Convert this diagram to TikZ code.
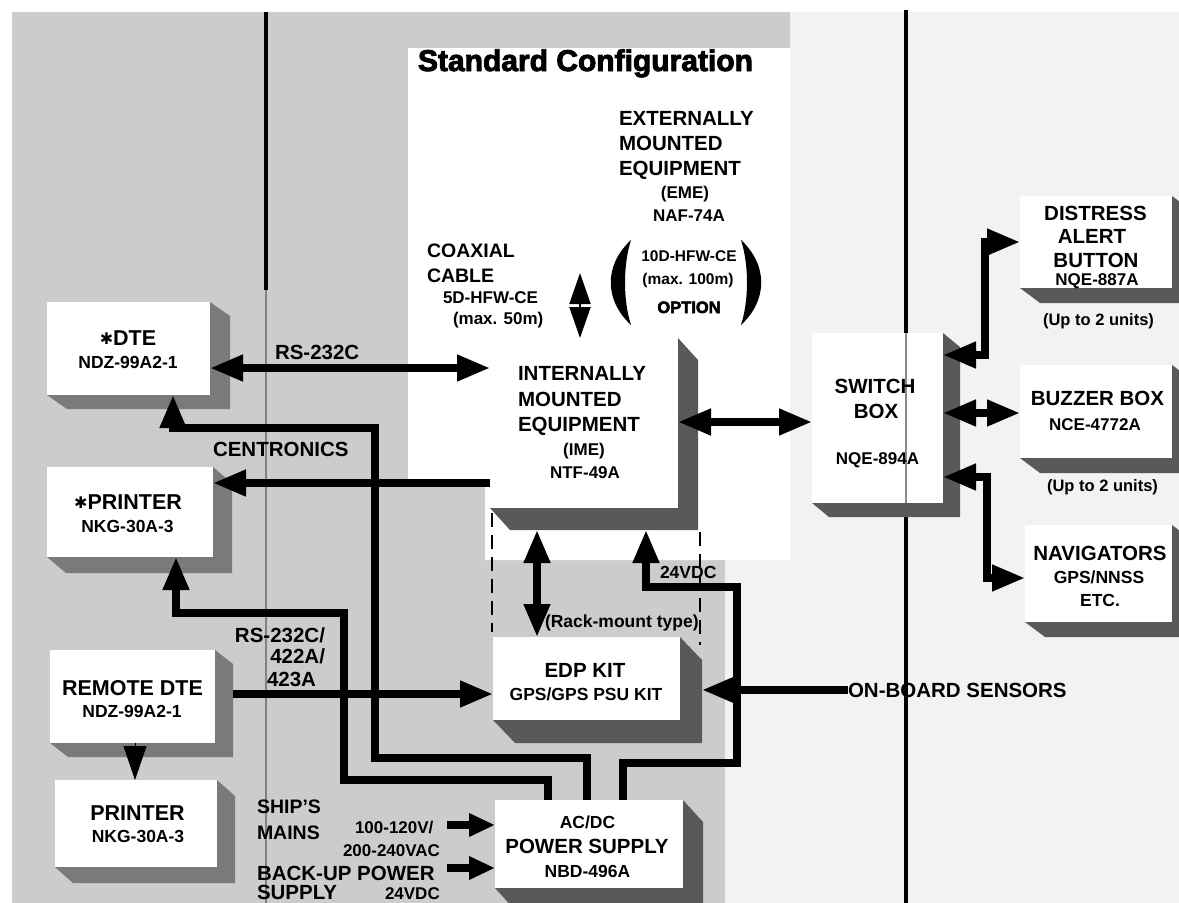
\documentclass[tikz,border=0pt]{standalone}
\usepackage{fontspec}
\setmainfont{Liberation Sans}
\newfontfamily\djv{DejaVu Sans}
\newfontfamily\heavy{Liberation Sans Bold}[FakeBold=3]
\usetikzlibrary{arrows.meta,calc,fit}
\pgfdeclarelayer{bgl}
\pgfdeclarelayer{shl}
\pgfsetlayers{bgl,shl,main}
\newcommand\mkshadow[4][shadowfill]{%
  \begin{pgfonlayer}{shl}
    \fill[#1] (#2.north east) -- ++(#3,#4) -- ($(#2.south east)+(#3,#4)$) -- ($(#2.south west)+(#3,#4)$) -- (#2.south west) -- (#2.south east) -- cycle;
  \end{pgfonlayer}}
\newcommand\myast{{\djv\bfseries\fontsize{16}{16}\selectfont\raisebox{0.03em}{✱}}}
\begin{document}
\begin{tikzpicture}[x=1pt,y=-1pt,
  box/.style={rectangle, fill=white, draw=none, inner sep=0pt, outer sep=0pt},
  shadowfill/.style={fill=black!65},
  shadowlite/.style={fill=black!52},
  tx/.style={inner sep=0pt, outer sep=0pt},
  fA/.style={tx, font=\bfseries\fontsize{20.5}{25}\selectfont},
  fL/.style={tx, font=\bfseries\fontsize{21.5}{26}\selectfont},
  fE/.style={tx, font=\bfseries\fontsize{19.5}{24}\selectfont},
  fB/.style={tx, font=\bfseries\fontsize{17}{21}\selectfont},
  fS/.style={tx, font=\bfseries\fontsize{15.5}{20}\selectfont},
  fG/.style={tx, font=\bfseries\fontsize{17.5}{21}\selectfont},
  fD/.style={tx, font=\bfseries\fontsize{16.5}{20}\selectfont},
  fO/.style={tx, font=\heavy\fontsize{16.5}{20}\selectfont},
  fT/.style={tx, font=\heavy\fontsize{30}{34}\selectfont},
  conn/.style={line width=7.5pt, line cap=butt, >={Triangle[length=33pt,width=25pt]}},
  fat/.style={line width=8pt, line cap=butt, >={Triangle[length=26pt,width=22pt]}},
  coax/.style={line width=2pt, >={Triangle[length=31pt,width=21pt]}},
  tri/.style={line width=1pt, >={Triangle[length=34pt,width=23pt]}},
  rackline/.style={line width=1.5pt, dash pattern=on 14pt off 8pt},
]
\useasboundingbox (0,0) rectangle (1179,903);
% background
\begin{pgfonlayer}{bgl}
  \fill[white] (0,0) rectangle (1179,903);
  \fill[black!20] (12,12) rectangle (1179,903);
  \fill[white] (408,48) -- (1179,48) -- (1179,903) -- (725,903) -- (725,560) -- (485,560) -- (485,480) -- (408,480) -- cycle;
  \fill[black!5] (790,12) rectangle (1179,903);
  \fill[black!5] (725,560) rectangle (790,903);
  \draw[line width=4.5pt] (266,12) -- (266,290);
  \draw[black!50, line width=1.6pt] (266,290) -- (266,903);
  \draw[line width=4.5pt] (906,10) -- (906,903);
\end{pgfonlayer}

% boxes
\node[box, fit={(47,302) (210,395)}] (dte) {};
\node[box, fit={(47,467) (213,557)}] (prn) {};
\node[box, fit={(50,650) (215,743)}] (rdte) {};
\node[box, fit={(55,780) (217,867)}] (prn2) {};
\node[box, fit={(490,338) (678,508)}] (ime) {};
\node[box, fit={(493,637) (680,720)}] (edp) {};
\node[box, fit={(495,800) (683,888)}] (psu) {};
\node[box, fit={(812,333) (943,503)}] (sw) {};
\node[box, fit={(1020,196) (1172,288)}] (dab) {};
\node[box, fit={(1020,365) (1172,458)}] (buz) {};
\node[box, fit={(1025,525) (1172,622)}] (nav) {};
\mkshadow[shadowlite]{dte}{20}{14}
\mkshadow[shadowlite]{prn}{19}{16}
\mkshadow[shadowlite]{rdte}{18}{14}
\mkshadow[shadowlite]{prn2}{18}{16}
\mkshadow{ime}{20}{22}
\mkshadow{edp}{22}{23}
\mkshadow{psu}{20}{22}
\mkshadow{sw}{17}{14}
\mkshadow{dab}{20}{15}
\mkshadow{buz}{20}{15}
\mkshadow{nav}{20}{15}
\draw[black!45, line width=1.2pt] (sw.north -| 906,0) -- (sw.south -| 906,0);

% title
\node[fT, anchor=base west] (title) at (418,71) {Standard Configuration};

% externally mounted equipment
\node[fA, anchor=base west] (emeA) at (619,125) {EXTERNALLY};
\node[fA, anchor=base west] (emeB) at (619,150) {MOUNTED};
\node[fA, anchor=base west] (emeC) at (619,175) {EQUIPMENT};
\node[fB, anchor=base] (emeD) at (685,198) {(EME)};
\node[fB, anchor=base] (emeE) at (689,221) {NAF-74A};
\node[fS, anchor=base] (optA) at (689,261) {10D-HFW-CE};
\node[fS, anchor=base] (optB) at (688,284) {(max. 100m)};
\node[fO, anchor=base] (optC) at (689,313) {OPTION};
\fill (631,240) .. controls (604,265) and (604,300) .. (631,325) .. controls (623,300) and (623,265) .. cycle;
\fill (741,240) .. controls (768,265) and (768,300) .. (741,325) .. controls (749,300) and (749,265) .. cycle;

% coaxial cable
\node[fE, anchor=base west] (coxA) at (427,257) {COAXIAL};
\node[fE, anchor=base west] (coxB) at (427,282) {CABLE};
\node[fB, anchor=base west] (coxC) at (443,303) {5D-HFW-CE};
\node[fB, anchor=base west] (coxD) at (453,324) {(max. 50m)};
\coordinate (coaxtop) at (580,273);

% IME
\node[fA, anchor=base west] (imeA) at (518,380) {INTERNALLY};
\node[fA, anchor=base west] (imeB) at (518,406) {MOUNTED};
\node[fA, anchor=base west] (imeC) at (518,431) {EQUIPMENT};
\node[fB, anchor=base] (imeD) at (584,455) {(IME)};
\node[fB, anchor=base] (imeE) at (585,478) {NTF-49A};

% left boxes
\node[fL, anchor=base] (dteA) at (128,345) {\myast DTE};
\node[fG, anchor=base] (dteB) at (128,368) {NDZ-99A2-1};
\node[fL, anchor=base] (prnA) at (128,509) {\myast PRINTER};
\node[fG, anchor=base] (prnB) at (127.5,532) {NKG-30A-3};
\node[fL, anchor=base] (rdteA) at (132.5,695) {REMOTE DTE};
\node[fG, anchor=base] (rdteB) at (132,717) {NDZ-99A2-1};
\node[fL, anchor=base] (prn2A) at (137.5,820) {PRINTER};
\node[fG, anchor=base] (prn2B) at (138,842) {NKG-30A-3};

% link labels
\node[fA, anchor=base west] (rsA) at (275,359) {RS-232C};
\node[fA, anchor=base west] (cen) at (213,456) {CENTRONICS};
\node[fA, anchor=base east] (rsB) at (325,642) {RS-232C/};
\node[fA, anchor=base east] (rsC) at (325,663) {422A/};
\node[fA, anchor=base west] (rsD) at (267,686) {423A};

% mains
\node[fE, anchor=base west] (shA) at (257,813) {SHIP’S};
\node[fE, anchor=base west] (shB) at (257,839) {MAINS};
\node[fB, anchor=base west] (vA) at (355,833) {100-120V/};
\node[fB, anchor=base west] (vB) at (343,856) {200-240VAC};
\node[fA, anchor=base west] (buA) at (257,880) {BACK-UP POWER};
\node[fA, anchor=base west] (buB) at (257,899) {SUPPLY};
\node[fB, anchor=base west] (buC) at (385,899) {24VDC};
\coordinate (mainsT) at (447,825);
\coordinate (backT) at (447,868);

% EDP and PSU
\node[fA, anchor=base] (edpA) at (585,677) {EDP KIT};
\node[fG, anchor=base] (edpB) at (586,700) {GPS/GPS PSU KIT};
\node[fG, anchor=base west] (rack) at (545,627) {(Rack-mount type)};
\node[fG, anchor=base] (psuA) at (587.5,828) {AC/DC};
\node[fA, anchor=base] (psuB) at (587,853) {POWER SUPPLY};
\node[fG, anchor=base] (psuC) at (587.5,877) {NBD-496A};
\node[fG, anchor=base west] (v24) at (660,578) {24VDC};
\node[fA, anchor=base west] (onb) at (848,697) {ON-BOARD SENSORS};
\coordinate (edpsh) at ($(edp.east)+(22,0)$);

% switch box and right side
\node[fA, anchor=base] (swA) at (875,393) {SWITCH};
\node[fA, anchor=base] (swB) at (876,418) {BOX};
\node[fB, anchor=base] (swC) at (877.5,464) {NQE-894A};
\node[fA, anchor=base] (dabA) at (1095.5,220) {DISTRESS};
\node[fA, anchor=base] (dabB) at (1092,243) {ALERT};
\node[fA, anchor=base] (dabC) at (1096,267) {BUTTON};
\node[fB, anchor=base] (dabD) at (1097,285) {NQE-887A};
\node[fD, anchor=base] (dabE) at (1098.5,325) {(Up to 2 units)};
\node[fA, anchor=base] (buzA) at (1097.5,405) {BUZZER BOX};
\node[fB, anchor=base] (buzB) at (1095,430) {NCE-4772A};
\node[fD, anchor=base] (buzC) at (1102.5,491) {(Up to 2 units)};
\node[fA, anchor=base] (navA) at (1100,560) {NAVIGATORS};
\node[fG, anchor=base] (navB) at (1099,583) {GPS/NNSS};
\node[fG, anchor=base] (navC) at (1100,606) {ETC.};

% rack-mount dashed frame
\draw[rackline] ($(ime.south west)+(2,5)$) -- ($(edp.north west)+(-1,-5)$);
\draw[rackline] ($(ime.south east)+(22,24)$) -- ($(edp.north east)+(20,8)$);

% connectors
\draw[coax,<->] (coaxtop) -- ($(ime.north west)+(90,0)$);
\draw[conn,<->] ($(dte.north east)+(0,66)$) -- ($(ime.north west)+(0,30)$);
\draw[conn,->] ($(ime.north west)+(0,145)$) -- ($(prn.north east)+(0,16)$);
\draw[conn,<->] ($(ime.north east)+(0,84)$) -- ($(sw.north west)+(0,89)$);
\draw[conn,<->] ($(ime.south west)+(47,22)$) -- ($(edp.north west)+(44,0)$);
\draw[conn,->] ($(psu.north west)+(128,0)$) -- ++(0,-37) -- ++(114,0) -- ++(0,-176) -- ++(-91,0) -- ($(ime.south west)+(156,22)$);
\draw[conn,->] ($(psu.north west)+(92,0)$) -- ++(0,-42) -- ++(-212,0) -- ++(0,-330) -- ++(-202,0) -- ($(dte.south west)+(126,0)$);
\draw[conn,->] ($(psu.north west)+(53,0)$) -- ++(0,-20) -- ++(-204,0) -- ++(0,-167) -- ++(-168,0) -- ($(prn.south west)+(129,0)$);
\draw[conn,->] ($(rdte.north east)+(18,44)$) -- ($(edp.north west)+(0,57)$);
\draw[conn,->] (onb.west) -- (onb.west -| edpsh);
\draw[fat,->] (mainsT) -- (mainsT -| psu.west);
\draw[fat,->] (backT) -- (backT -| psu.west);
\draw[tri,->] ($(rdte.south west)+(85,0)$) -- ($(prn2.north west)+(80,0)$);
\draw[conn,<->] ($(sw.north east)+(0,22)$) -- ++(42,0) |- ($(dab.north west)+(0,46)$);
\draw[conn,<->] ($(sw.north east)+(0,80)$) -- ($(buz.north west)+(0,48)$);
\draw[conn,<->] ($(sw.north east)+(0,144)$) -- ++(44,0) |- ($(nav.north west)+(0,53)$);
\end{tikzpicture}
\end{document}
